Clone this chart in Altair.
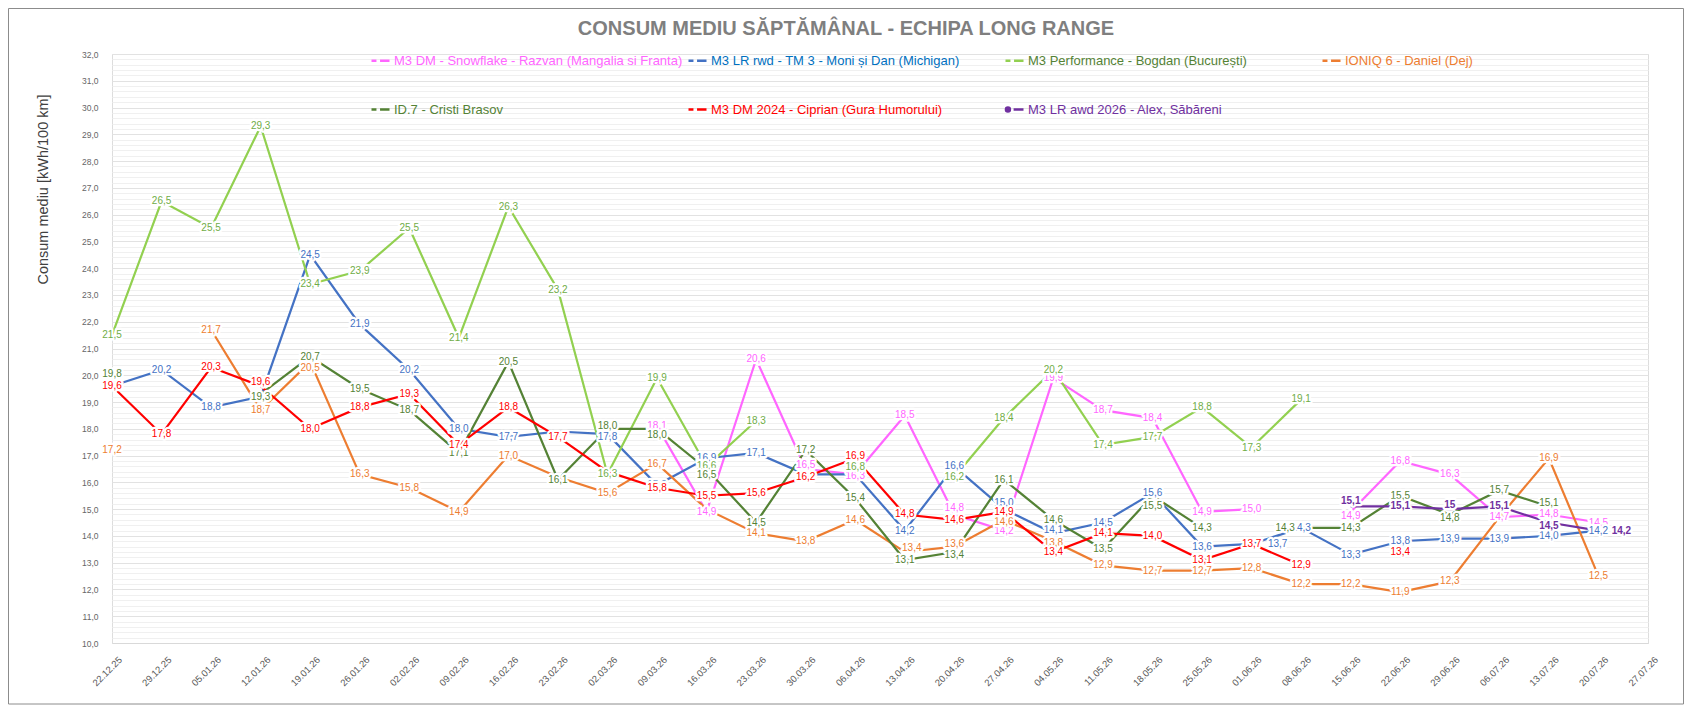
import json
import altair as alt
import pandas as pd

DATES = ["22.12.25", "29.12.25", "05.01.26", "12.01.26", "19.01.26", "26.01.26", "02.02.26",
         "09.02.26", "16.02.26", "23.02.26", "02.03.26", "09.03.26", "16.03.26", "23.03.26",
         "30.03.26", "06.04.26", "13.04.26", "20.04.26", "27.04.26", "04.05.26", "11.05.26",
         "18.05.26", "25.05.26", "01.06.26", "08.06.26", "15.06.26", "22.06.26", "29.06.26",
         "06.07.26", "13.07.26", "20.07.26", "27.07.26"]

SERIES = ["M3 DM - Snowflake - Razvan (Mangalia si Franta)",
          "M3 LR rwd - TM 3 - Moni și Dan (Michigan)",
          "M3 Performance - Bogdan (București)",
          "IONIQ 6 - Daniel (Dej)",
          "ID.7 - Cristi Brasov",
          "M3 DM 2024 - Ciprian (Gura Humorului)",
          "M3 LR awd 2026 - Alex, Săbăreni"]

N = None
PINK = [N, N, N, N, N, N, N, N, N, N, N, 18.1, 14.9, 20.6, 16.5, 16.3, 18.5, 14.8, 14.2, 19.9,
        18.7, 18.4, 14.9, 15.0, N, 14.9, 16.8, 16.3, 14.7, 14.8, 14.5, N]
BLUE = [19.6, 20.2, 18.8, 19.2, 24.5, 21.9, 20.2, 18.0, 17.7, 17.9, 17.8, 15.9, 16.9, 17.1, 16.3,
        16.3, 14.2, 16.6, 15.0, 14.1, 14.5, 15.6, 13.6, 13.7, 14.3, 13.3, 13.8, 13.9, 13.9, 14.0,
        14.2, N]
LGREEN = [21.5, 26.5, 25.5, 29.3, 23.4, 23.9, 25.5, 21.4, 26.3, 23.2, 16.3, 19.9, 16.6, 18.3, N,
          16.8, N, 16.2, 18.4, 20.2, 17.4, 17.7, 18.8, 17.3, 19.1, N, N, N, N, N, N, N]
ORANGE = [17.2, N, 21.7, 18.7, 20.5, 16.3, 15.8, 14.9, 17.0, 16.2, 15.6, 16.7, 15.0, 14.1, 13.8,
          14.6, 13.4, 13.6, 14.6, 13.8, 12.9, 12.7, 12.7, 12.8, 12.2, 12.2, 11.9, 12.3, 14.7, 16.9,
          12.5, N]
DGREEN = [19.8, N, N, 19.3, 20.7, 19.5, 18.7, 17.1, 20.5, 16.1, 18.0, 18.0, 16.5, 14.5, 17.2,
          15.4, 13.1, 13.4, 16.1, 14.6, 13.5, 15.5, 14.3, N, 14.3, 14.3, 15.5, 14.8, 15.7, 15.1,
          N, N]
RED = [19.6, 17.8, 20.3, 19.6, 18.0, 18.8, 19.3, 17.4, 18.8, 17.7, 16.4, 15.8, 15.5, 15.6, 16.2,
       16.9, 14.8, 14.6, 14.9, 13.4, 14.1, 14.0, 13.1, 13.7, 12.9, N, 13.4, N, N, N, N, N]
PURPLE = [N, N, N, N, N, N, N, N, N, N, N, N, N, N, N, N, N, N, N, N, N, N, N, N, N,
          15.1, 15.1, 15.0, 15.1, 14.5, 14.2, N]

VALUES = [PINK, BLUE, LGREEN, ORANGE, DGREEN, RED, PURPLE]

LINE_COLORS = ["#FF66FF", "#4472C4", "#92D050", "#ED7D31", "#548235", "#FF0000", "#7030A0"]
LABEL_COLORS = ["#FF66FF", "#4472C4", "#70AD47", "#ED7D31", "#548235", "#FF0000", "#7030A0"]
LEGEND_TEXT_COLORS = ["#FF66FF", "#0070C0", "#548235", "#ED7D31", "#548235", "#FF0000", "#7030A0"]

# labels removed in the original chart (series index -> week indices)
HIDDEN = {1: [0, 3, 9, 15], 5: [10], 3: [9, 12, 28]}
# label nudges in pixels: (series index, week index) -> offset
NUDGE_X = {(1, 23): 26, (4, 24): -16, (6, 30): 23, (3, 16): 7}
NUDGE_Y = {(4, 0): -7, (5, 3): -4, (4, 3): 3, (3, 4): 6, (4, 10): -3, (1, 10): 3,
           (4, 11): 6, (4, 12): 6, (0, 14): -4, (1, 14): 4, (2, 15): 6, (5, 15): -2,
           (0, 15): 2, (0, 17): -6, (3, 18): 2, (1, 18): -6, (4, 21): 10, (6, 25): -5,
           (0, 25): 4, (6, 27): -4, (4, 27): 4, (1, 19): -3, (3, 19): 2, (6, 29): 3,
           (4, 29): -3, (3, 16): -4, (3, 17): -3, (4, 17): 3}

rows = []
for si, (name, vals) in enumerate(zip(SERIES, VALUES)):
    seg = 0
    for i, v in enumerate(vals):
        if v is None:
            seg += 1
            continue
        if si == 6:
            lab = ("%g" % v).replace(".", ",")
        else:
            lab = f"{v:.1f}".replace(".", ",")
        rows.append({
            "idx": i, "date": DATES[i], "series": name, "value": v,
            "seg": f"{si}-{seg}", "label": lab,
            "show": i not in HIDDEN.get(si, []),
            "nx": NUDGE_X.get((si, i), 0),
            "ny": NUDGE_Y.get((si, i), 0),
            "si": si,
        })
df = pd.DataFrame(rows)

FONT = "Liberation Sans"

x_enc = alt.X("date:O",
              scale=alt.Scale(type="point", domain=DATES, padding=0),
              axis=alt.Axis(title=None, labelAngle=-45, labelAlign="right", labelBaseline="middle",
                            labelFontSize=9.5, labelColor="#595959", labelFont=FONT,
                            labelPadding=15, labelOffset=8, ticks=False, grid=False,
                            domainColor="#d9d9d9", labelOverlap=False))

GRID_VALUES = [round(10 + 0.2 * k, 1) for k in range(111)]
is_major = "abs(datum.value - round(datum.value)) < 0.01"
y_enc = alt.Y("value:Q",
              scale=alt.Scale(domain=[10, 32], nice=False, zero=False),
              axis=alt.Axis(values=GRID_VALUES,
                            labelExpr=f"{is_major} ? replace(format(datum.value, '.1f'), '.', ',') : ''",
                            labelFontSize=8.5, labelColor="#666666", labelFont=FONT,
                            labelPadding=14, labelOverlap=False, ticks=False, domain=False,
                            gridColor={"condition": {"test": is_major, "value": "#e2e2e2"},
                                       "value": "#f0f0f0"},
                            gridWidth=1,
                            title="Consum mediu [kWh/100 km]", titleFont=FONT,
                            titleFontSize=14.5, titleFontWeight="normal", titleColor="#404040",
                            titleX=-69, titleY=135, titleAngle=270, titleAlign="center",
                            titleBaseline="middle"))

legend_color_expr = " : ".join(
    f"datum.value === {json.dumps(s, ensure_ascii=False)} ? '{c}'"
    for s, c in zip(SERIES, LEGEND_TEXT_COLORS)) + " : '#404040'"

legend = alt.Legend(
    title=None, orient="none", legendX=258, legendY=-4, columns=4, direction="horizontal",
    gridAlign="all", columnPadding=0, rowPadding=31, padding=0,
    labelFont=FONT, labelFontSize=13, labelLimit=400, labelOffset=3,
    labelColor={"expr": legend_color_expr},
    symbolType={"expr": "indexof(datum.value, 'awd') >= 0 ? "
                        "'M-0.95,0a0.22,0.22 0 1,0 0.44,0a0.22,0.22 0 1,0 -0.44,0M-0.1,0H1' : "
                        "'M-1,0H-0.45M-0.05,0H1'"},
    symbolSize=324, symbolStrokeWidth=2.5, symbolFillColor="#7030A0",
)

lines = alt.Chart(df).mark_line(strokeWidth=2.2).encode(
    x=x_enc, y=y_enc,
    color=alt.Color("series:N", scale=alt.Scale(domain=SERIES, range=LINE_COLORS), legend=legend),
    detail="seg:N",
    order=alt.Order("idx:Q"),
)

label_layers = []
for si, name in enumerate(SERIES):
    sub = df[(df["si"] == si) & (df["show"])]
    if sub.empty:
        continue
    weight = "bold" if si == 6 else "normal"
    halos, texts = [], []
    for (nx, ny), g in sub.groupby(["nx", "ny"]):
        base = alt.Chart(g).encode(x=x_enc, y=y_enc, text="label:N")
        halos.append(base.mark_text(font=FONT, fontSize=10, align="center", baseline="middle",
                                    dx=int(nx), dy=int(ny), fontWeight=weight,
                                    color="white", stroke="white", strokeWidth=4.5,
                                    strokeJoin="round"))
        texts.append(base.mark_text(font=FONT, fontSize=10, align="center", baseline="middle",
                                    dx=int(nx), dy=int(ny), fontWeight=weight,
                                    color=LABEL_COLORS[si]))
    label_layers += halos + texts

one = pd.DataFrame({"b": [0]})
border = alt.Chart(one).mark_rect(
    fill="transparent", stroke="#8c8c8c", strokeWidth=1).encode(
    x=alt.value(-103.5), x2=alt.value(1571.5), y=alt.value(-45.5), y2=alt.value(650))

title = alt.Chart(one).mark_text(
    text="CONSUM MEDIU SĂPTĂMÂNAL - ECHIPA LONG RANGE", font=FONT, fontSize=20,
    fontWeight="bold", color="#7f7f7f", align="center", baseline="middle").encode(
    x=alt.value(734), y=alt.value(-25))

chart = alt.layer(border, title, lines, *label_layers).properties(
    width=1536, height=589,
    autosize=alt.AutoSizeParams(type="none"),
    padding={"left": 104, "top": 46, "right": 36, "bottom": 62},
).configure_view(stroke="transparent").configure(background="white")

chart.save("out.html", embed_options={"renderer": "svg", "actions": False})
